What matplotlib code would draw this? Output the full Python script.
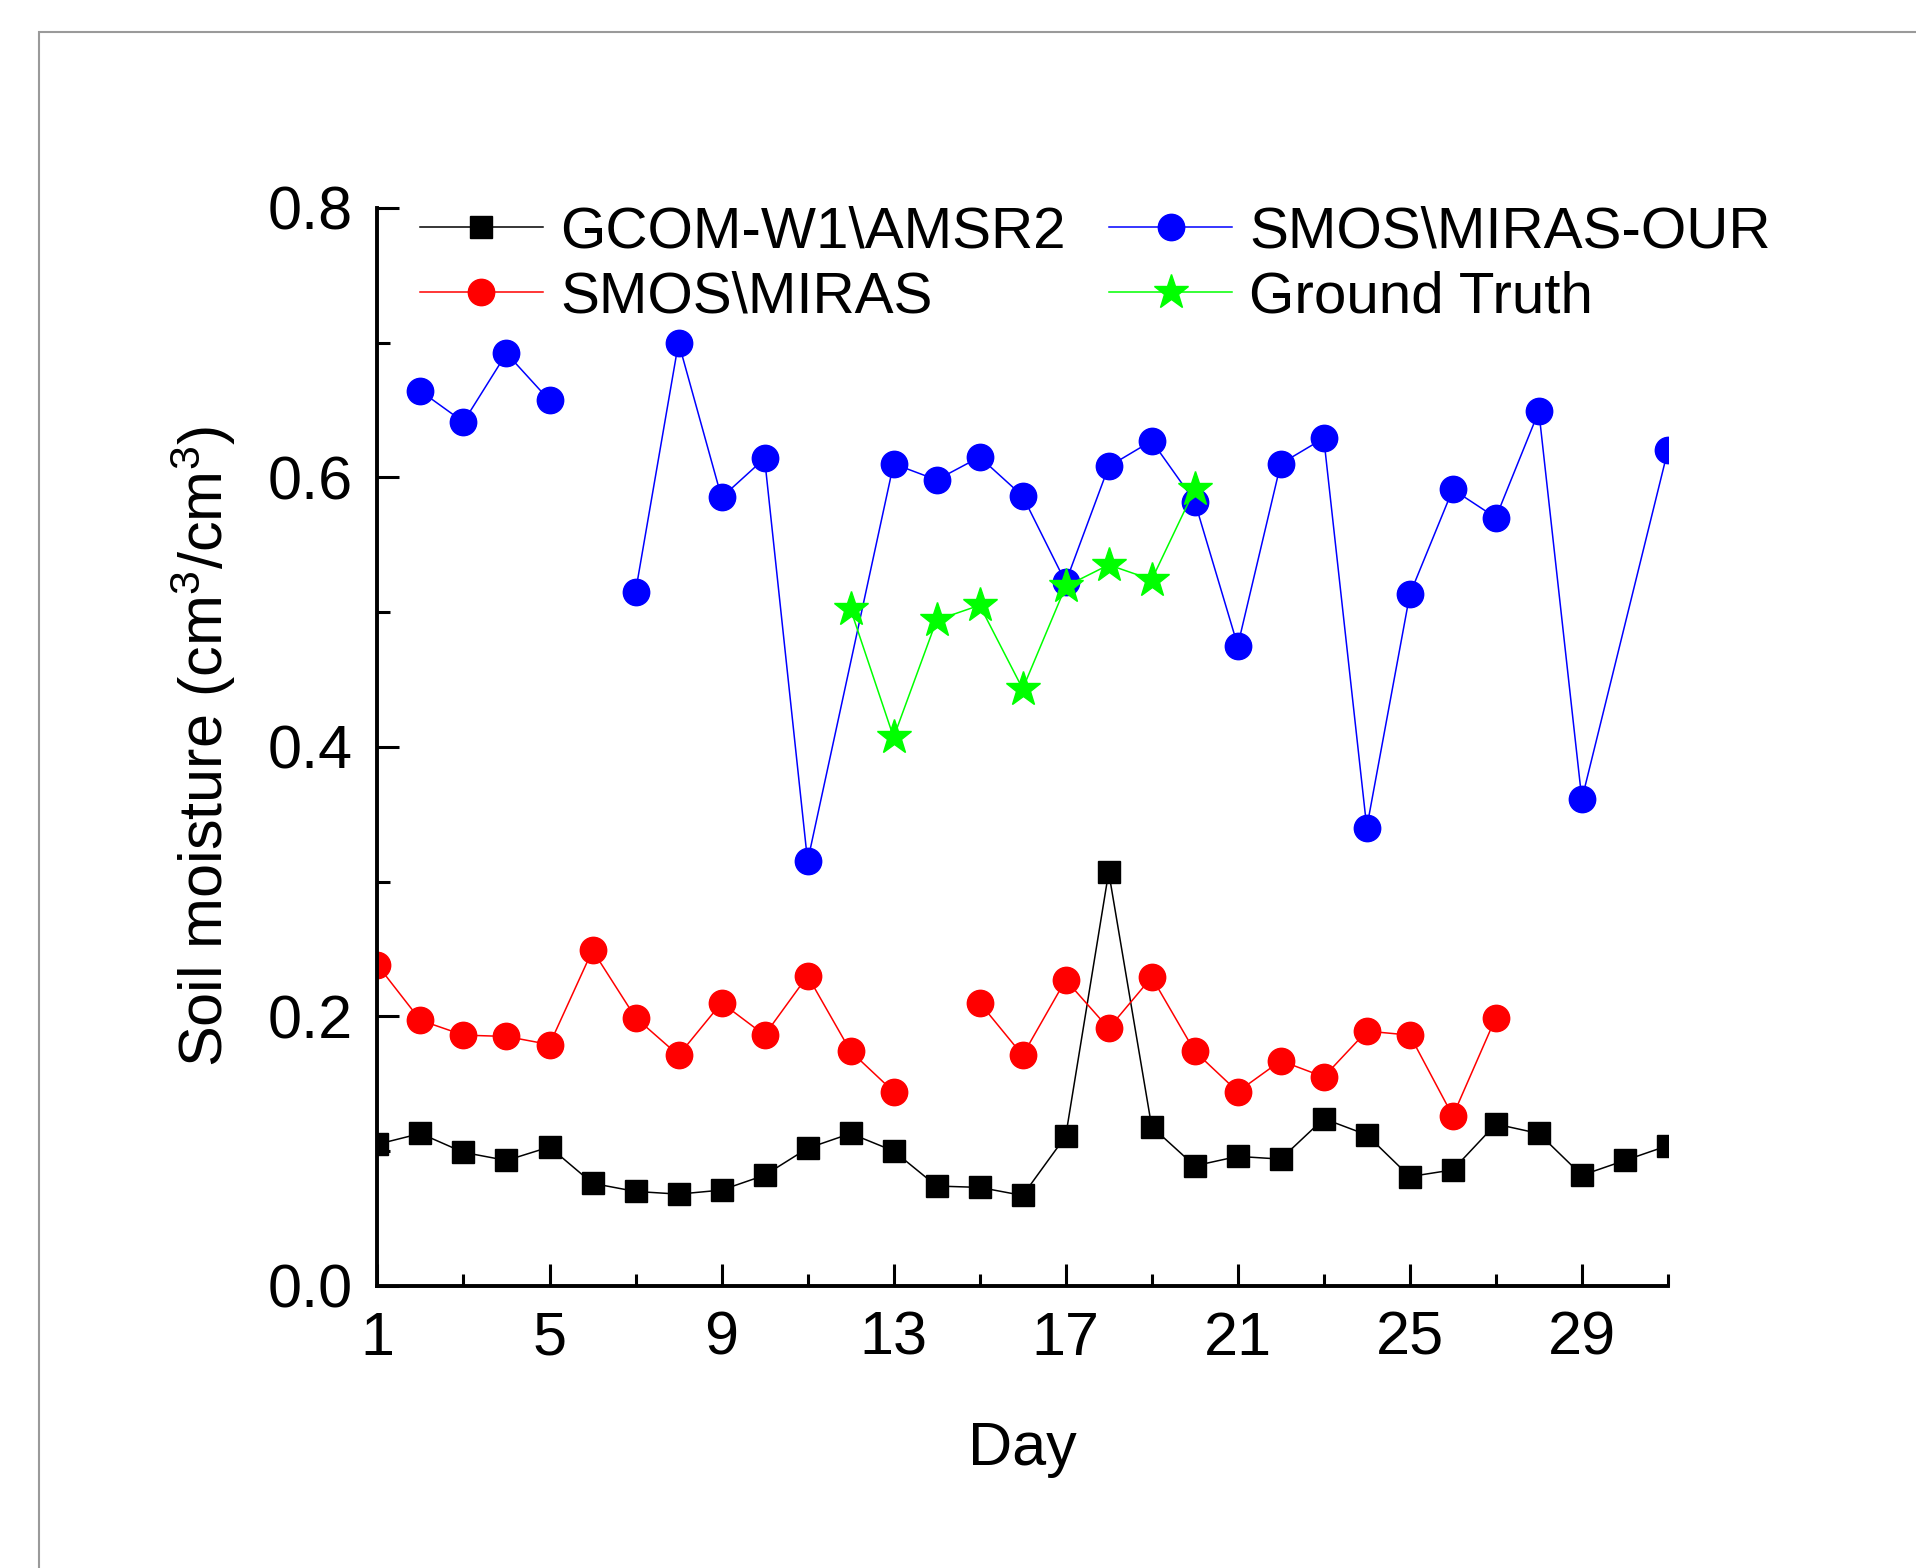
import numpy as np
import matplotlib
matplotlib.use("Agg")
import matplotlib.pyplot as plt
from matplotlib.patches import Rectangle

plt.rcParams['font.family'] = ['Liberation Sans', 'DejaVu Sans']
plt.rcParams['mathtext.default'] = 'regular'

# GCOM-W1\AMSR2, every day 1..31
days_all = list(range(1, 32))
gcom_vals = [0.105, 0.113, 0.099, 0.093, 0.103, 0.076, 0.070, 0.068, 0.071, 0.082,
             0.102, 0.113, 0.100, 0.074, 0.073, 0.067, 0.111, 0.307, 0.118, 0.089,
             0.096, 0.094, 0.124, 0.112, 0.081, 0.086, 0.120, 0.113, 0.082, 0.093,
             0.104]

# SMOS\MIRAS (no value on day 14 and after day 27)
miras_days = [1, 2, 3, 4, 5, 6, 7, 8, 9, 10, 11, 12, 13,
              15, 16, 17, 18, 19, 20, 21, 22, 23, 24, 25, 26, 27]
miras_vals = [0.238, 0.197, 0.186, 0.185, 0.179, 0.249, 0.199, 0.171, 0.210, 0.186,
              0.230, 0.174, 0.144,
              0.210, 0.171, 0.227, 0.191, 0.229, 0.174, 0.144, 0.167, 0.155, 0.189,
              0.186, 0.126, 0.199]
miras_breaks = [14]

# SMOS\MIRAS-OUR
our_days = [2, 3, 4, 5, 7, 8, 9, 10, 11, 13, 14, 15, 16, 17, 18, 19, 20, 21, 22,
            23, 24, 25, 26, 27, 28, 29, 31]
our_vals = [0.664, 0.641, 0.692, 0.657, 0.515, 0.700, 0.585, 0.614, 0.315, 0.610,
            0.598, 0.615, 0.586, 0.522, 0.608, 0.627, 0.582, 0.475, 0.610, 0.629,
            0.340, 0.513, 0.591, 0.570, 0.649, 0.361, 0.620]
our_breaks = [6]

# Ground truth
gt_days = [12, 13, 14, 15, 16, 17, 18, 19, 20]
gt_vals = [0.502, 0.407, 0.494, 0.505, 0.443, 0.519, 0.535, 0.524, 0.591]


def with_breaks(days, vals, breaks):
    x, y = [], []
    for d, v in zip(days, vals):
        for b in breaks:
            if x and x[-1] < b < d:
                x.append(b)
                y.append(np.nan)
        x.append(d)
        y.append(v)
    return x, y


fig = plt.figure(figsize=(19.16, 15.68), dpi=100)
fig.patches.append(Rectangle((0.0205, -0.1), 1.2, 1.0797, transform=fig.transFigure,
                             fill=False, edgecolor='#9a9a9a', linewidth=1.5))
ax = fig.add_axes([0.197, 0.180, 0.6735, 0.6875])

ax.plot(days_all, gcom_vals, '-s', color='black', lw=1.1, ms=16,
        label='GCOM-W1\\AMSR2')
x, y = with_breaks(miras_days, miras_vals, miras_breaks)
ax.plot(x, y, '-o', color='#ff0000', lw=1.1, ms=19, label='SMOS\\MIRAS')
x, y = with_breaks(our_days, our_vals, our_breaks)
ax.plot(x, y, '-o', color='#0000ff', lw=1.1, ms=19, label='SMOS\\MIRAS-OUR')
ax.plot(gt_days, gt_vals, '-*', color='#00ff00', lw=1.1, ms=26, label='Ground Truth')

ax.set_xlim(1, 31)
ax.set_ylim(0, 0.8)
ax.set_xticks([1, 5, 9, 13, 17, 21, 25, 29])
ax.set_xticks([3, 7, 11, 15, 19, 23, 27, 31], minor=True)
ax.set_yticks([0.0, 0.2, 0.4, 0.6, 0.8])
ax.set_yticklabels(['0.0', '0.2', '0.4', '0.6', '0.8'])
ax.set_yticks([0.1, 0.3, 0.5, 0.7], minor=True)

for s in ['top', 'right']:
    ax.spines[s].set_visible(False)
for s in ['left', 'bottom']:
    ax.spines[s].set_linewidth(2.8)

ax.tick_params(which='major', direction='in', length=16, width=2.2, labelsize=44, pad=18)
ax.tick_params(which='minor', direction='in', length=9, width=2.2)

ax.set_xlabel('Day', fontsize=44, labelpad=38)
ax.set_ylabel('Soil moisture (cm$^3$/cm$^3$)', fontsize=44, labelpad=21)

ax.legend(ncol=2, loc='upper left', bbox_to_anchor=(0.015, 1.024), frameon=False,
          fontsize=42, handlelength=2.1, handletextpad=0.3, columnspacing=0.75,
          labelspacing=0.2, borderaxespad=0)

fig.savefig('out.png', dpi=100)
